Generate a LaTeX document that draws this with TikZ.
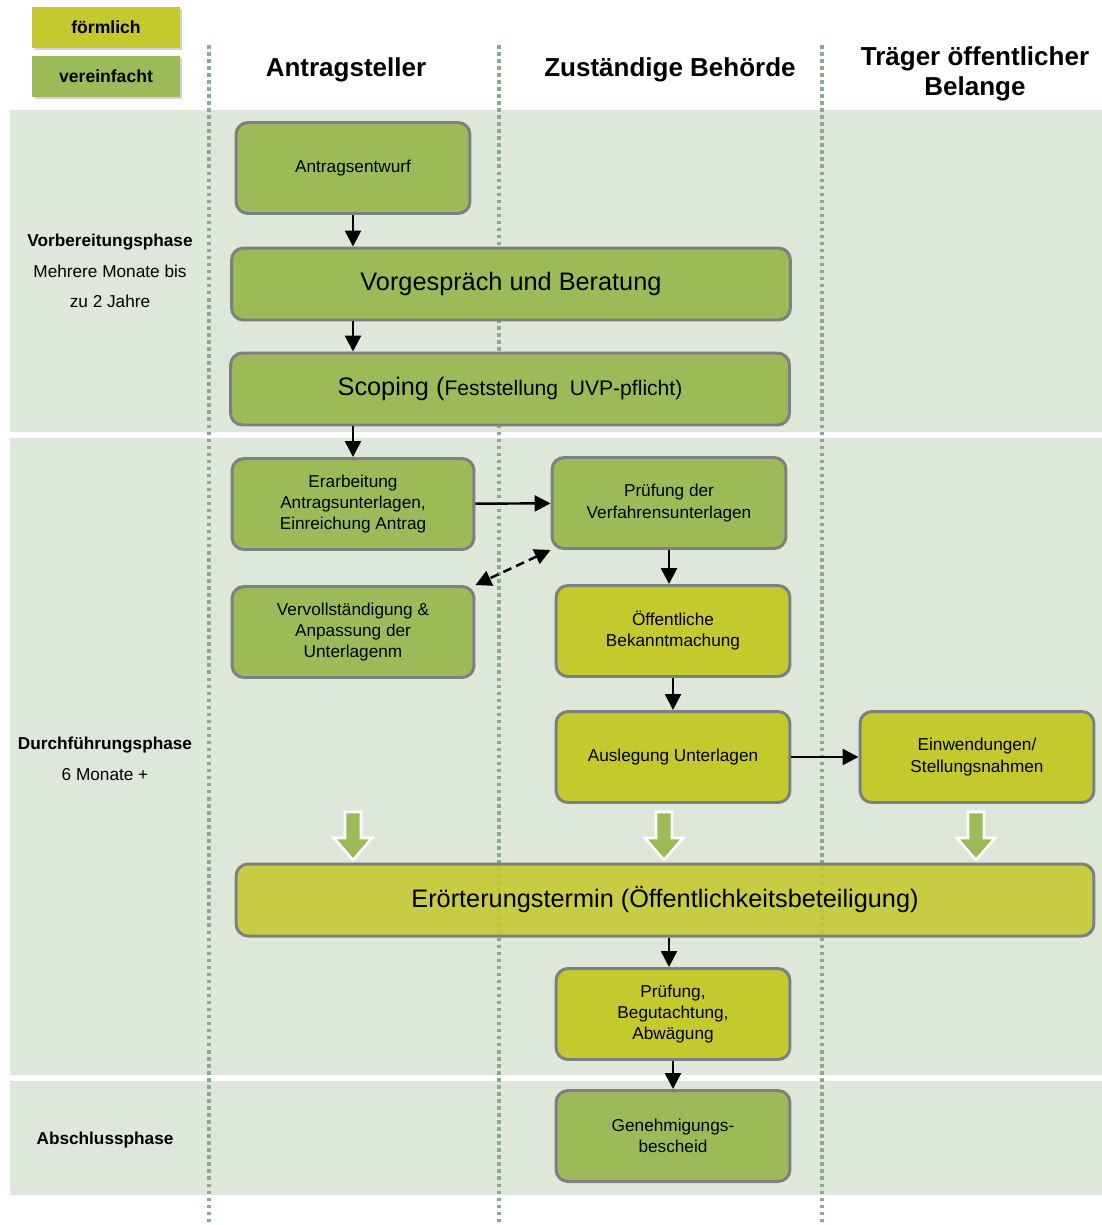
\documentclass[tikz,border=0pt]{standalone}
\usepackage{fontspec}
\setmainfont{Liberation Sans}
\usetikzlibrary{arrows.meta,shadows}
\definecolor{bandgreen}{RGB}{221,232,219}
\definecolor{boxgreen}{RGB}{155,187,89}
\definecolor{boxyellow}{RGB}{196,201,46}
\definecolor{boxgray}{RGB}{127,127,127}
\definecolor{dotgray}{RGB}{140,170,140}

\begin{document}
\begin{tikzpicture}[x=0.02cm,y=-0.02cm]
\tikzset{box/.style={draw=boxgray, line width=1.7pt, rounded corners=0.24cm, align=center, inner sep=2pt, font=\fontsize{9.8}{12}\selectfont},
  smallbox/.style={box, minimum width=4.68cm, minimum height=1.82cm},
  widebox/.style={box, minimum width=11.18cm, minimum height=1.44cm, font=\fontsize{14.4}{17}\selectfont},
  legendbox/.style={minimum width=2.96cm, minimum height=0.82cm, font=\fontsize{10}{12}\selectfont\bfseries, drop shadow={shadow xshift=0.05cm, shadow yshift=-0.05cm, opacity=0.35}},
  lane/.style={draw=dotgray, line width=2pt, dash pattern=on 2pt off 2pt},
  header/.style={font=\fontsize{14.8}{17}\selectfont\bfseries, align=center},
  phase/.style={font=\fontsize{9.8}{17.5}\selectfont, align=center},
  flow/.style={-{Triangle[width=9pt,length=9pt]}, line width=1.4pt},
  blockarrow/.style={fill=boxgreen, draw=white, line width=1.5pt}}
\useasboundingbox (0,0) rectangle (1102,1225);
\fill[bandgreen] (10,110) rectangle (1102,432);
\fill[bandgreen] (10,438) rectangle (1102,1075);
\fill[bandgreen] (10,1081) rectangle (1102,1195);
\node[legendbox, fill=boxyellow] (formlich) at (106,27) {förmlich};
\node[legendbox, fill=boxgreen] (vereinfacht) at (106,76) {vereinfacht};
\node[header] (antragsteller) at (346,70) {Antragsteller};
\node[header] (behoerde) at (670,70) {Zuständige Behörde};
\node[header] (traeger) at (975,74) {Träger öffentlicher\\Belange};
\node[phase] (vorbereitung) at (110,271) {\textbf{Vorbereitungsphase}\\Mehrere Monate bis\\zu 2 Jahre};
\node[phase] (durchfuehrung) at (105,759) {\textbf{Durchführungsphase}\\6 Monate +};
\node[phase] (abschluss) at (105,1140) {\textbf{Abschlussphase}};
\foreach \x in {209,499,822}
  \draw[lane] (\x,45) -- (\x,1225);
\node[smallbox, fill=boxgreen] (antrag) at (353,168) {Antragsentwurf};
\node[widebox, fill=boxgreen] (vorgespraech) at (511,284) {Vorgespräch und Beratung};
\node[widebox, fill=boxgreen] (scoping) at (510,389) {Scoping ({\fontsize{12}{14}\selectfont Feststellung\ \ UVP-pflicht)}};
\node[smallbox, fill=boxgreen, minimum width=4.84cm] (erarbeitung) at (353,504) {Erarbeitung\\Antragsunterlagen,\\Einreichung Antrag};
\node[smallbox, fill=boxgreen] (pruefung) at (669,503) {Prüfung der\\Verfahrensunterlagen};
\node[smallbox, fill=boxgreen, minimum width=4.84cm] (vervoll) at (353,632) {Vervollständigung \&\\Anpassung der\\Unterlagenm};
\node[smallbox, fill=boxyellow] (bekannt) at (673,631) {Öffentliche\\Bekanntmachung};
\node[smallbox, fill=boxyellow] (auslegung) at (673,757) {Auslegung Unterlagen};
\node[smallbox, fill=boxyellow] (einwend) at (977,757) {Einwendungen/\\Stellungsnahmen};
\node[widebox, fill=boxyellow, minimum width=17.16cm, fill opacity=0.88, text opacity=1] (eroerter) at (665,900) {Erörterungstermin (Öffentlichkeitsbeteiligung)};
\node[smallbox, fill=boxyellow] (begut) at (673,1014) {Prüfung,\\Begutachtung,\\Abwägung};
\node[smallbox, fill=boxgreen] (bescheid) at (673,1136) {Genehmigungs-\\bescheid};
\draw[flow] (antrag) -- (antrag |- vorgespraech.north);
\draw[flow] (antrag |- vorgespraech.south) -- (antrag |- scoping.north);
\draw[flow] (antrag |- scoping.south) -- (erarbeitung);
\draw[flow] (erarbeitung) -- (pruefung);
\draw[flow, {Triangle[width=9pt,length=9pt]}-{Triangle[width=9pt,length=9pt]}, dash pattern=on 5pt off 3pt] (pruefung.south west) -- (vervoll.north east);
\draw[flow] (pruefung) -- (pruefung |- bekannt.north);
\draw[flow] (bekannt) -- (auslegung);
\draw[flow] (auslegung) -- (einwend);
\draw[flow] (pruefung |- eroerter.south) -- (pruefung |- begut.north);
\draw[flow] (begut) -- (bescheid);
\foreach \x in {353,664,976}
  \draw[blockarrow] (\x-8,812) -- (\x+8,812) -- (\x+8,838) -- (\x+19,838) -- (\x,860) -- (\x-19,838) -- (\x-8,838) -- cycle;
\end{tikzpicture}
\end{document}
